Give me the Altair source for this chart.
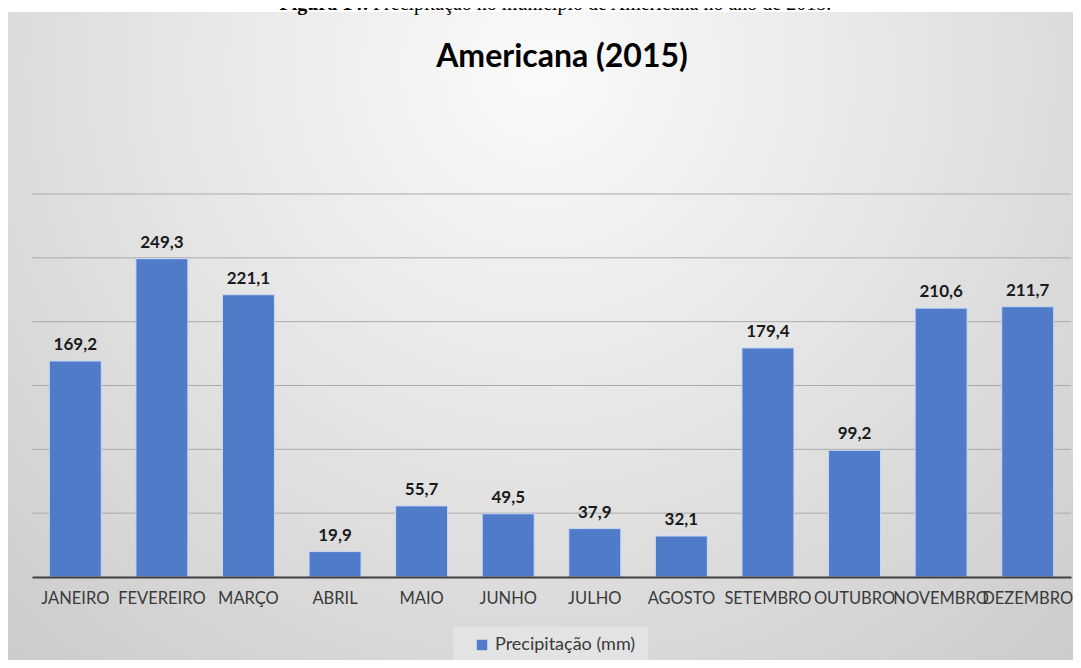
import altair as alt
import pandas as pd

months = ["JANEIRO", "FEVEREIRO", "MARÇO", "ABRIL", "MAIO", "JUNHO", "JULHO",
          "AGOSTO", "SETEMBRO", "OUTUBRO", "NOVEMBRO", "DEZEMBRO"]
values = [169.2, 249.3, 221.1, 19.9, 55.7, 49.5, 37.9, 32.1, 179.4, 99.2, 210.6, 211.7]
series_name = "Precipitação (mm)"
chart_title = "Americana (2015)"
caption_bold = "Figura 14:"
caption_rest = "Precipitação no município de Americana no ano de 2015."
y_ticks = [50, 100, 150, 200, 250, 300]

df = pd.DataFrame({
    "mes": months,
    "valor": values,
    "serie": [series_name] * len(months),
    "rotulo": [f"{v:.1f}".replace(".", ",") for v in values],
})
grid_df = pd.DataFrame({"v": y_ticks})
one = pd.DataFrame({"a": [0]})

W, H = 1039, 383
PL, PT, PR, PB = 24, 186, 2, 83
BAR = "#4f7bc9"

yscale = alt.Scale(domain=[0, 300], nice=False)

bg = alt.Chart(one).mark_rect(
    fill=alt.RadialGradient(
        gradient="radial",
        x1=0.5, y1=0.25, r1=0.0,
        x2=0.5, y2=0.25, r2=0.75,
        stops=[alt.GradientStop(color="#fafafa", offset=0.0),
               alt.GradientStop(color="#e6e6e6", offset=0.45),
               alt.GradientStop(color="#cbcbcb", offset=1.0)],
    )
).encode(x=alt.value(-PL), x2=alt.value(W + PR), y=alt.value(-PT + 4), y2=alt.value(H + PB))

legend_box = alt.Chart(one).mark_rect(fill="#e3e3e3").encode(
    x=alt.value(421), x2=alt.value(616), y=alt.value(433), y2=alt.value(468))

cap1 = alt.Chart(one).mark_text(
    text=caption_bold, font="Liberation Serif", fontSize=20, fontWeight="bold",
    align="right", baseline="alphabetic", color="#000000"
).encode(x=alt.value(337), y=alt.value(-PT + 2))

cap2 = alt.Chart(one).mark_text(
    text=caption_rest, font="Liberation Serif", fontSize=20,
    align="left", baseline="alphabetic", color="#000000"
).encode(x=alt.value(341), y=alt.value(-PT + 2))

title = alt.Chart(one).mark_text(
    text=chart_title, font="Lato", fontSize=32, fontWeight="bold",
    align="center", baseline="alphabetic", color="#000000"
).encode(x=alt.value(530), y=alt.value(-127))

grid = alt.Chart(grid_df).mark_rule(color="#ababab", strokeWidth=1).encode(
    y=alt.Y("v:Q", scale=yscale, axis=None),
    x=alt.value(0), x2=alt.value(W),
)

xenc = alt.X("mes:N", sort=months, title=None,
             scale=alt.Scale(paddingInner=0.4, paddingOuter=0.2),
             axis=alt.Axis(labelAngle=0, labelFont="Lato", labelFontSize=16.5,
                           labelColor="#3a3a3a", labelPadding=13, ticks=False,
                           domainColor="#404040", domainWidth=2,
                           labelOverlap=False, labelLimit=200, zindex=1))

bars = alt.Chart(df).mark_bar(stroke="#c9d8f2", strokeWidth=1).encode(
    x=xenc,
    y=alt.Y("valor:Q", title=None, scale=yscale, axis=None),
    color=alt.Color("serie:N", scale=alt.Scale(range=[BAR]),
                    legend=alt.Legend(title=None, orient="none", legendX=441, legendY=442,
                                      symbolType="square", symbolSize=110,
                                      symbolStrokeWidth=0, symbolOffset=0,
                                      labelFont="Lato", labelFontSize=18,
                                      labelColor="#3a3a3a", padding=0,
                                      labelLimit=300)),
)

labels = alt.Chart(df).mark_text(
    font="Lato", fontSize=17, fontWeight="bold", color="#1a1a1a",
    baseline="alphabetic", dy=-11
).encode(x=alt.X("mes:N", sort=months), y=alt.Y("valor:Q", scale=yscale), text="rotulo:N")

chart = alt.layer(bg, legend_box, cap1, cap2, title, grid, bars, labels).properties(
    width=W, height=H,
    autosize=alt.AutoSizeParams(type="none"),
    padding={"left": PL, "top": PT, "right": PR, "bottom": PB},
    background="#ffffff",
).configure_view(stroke=None)

chart.save("out.html", embed_options={"renderer": "svg", "actions": False})
